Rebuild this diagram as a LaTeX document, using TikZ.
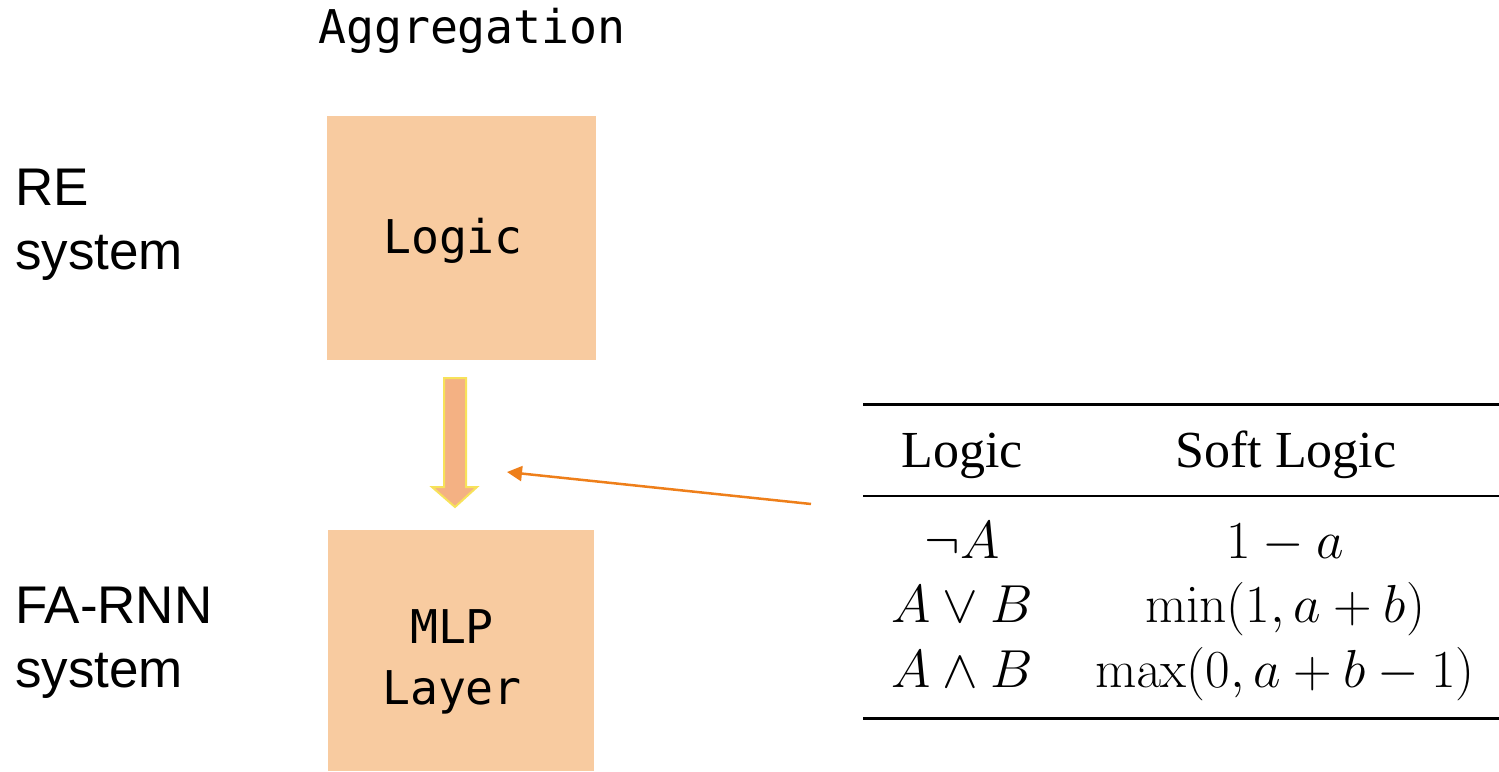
\RequirePackage{fix-cm}
\documentclass[tikz,border=0pt]{standalone}
\usepackage[no-math]{fontspec}
\newfontfamily\monofont{DejaVu Sans Mono}
\newfontfamily\labelfont{Liberation Sans}
\newfontfamily\tabfont{Liberation Serif}
\usetikzlibrary{arrows.meta}

\definecolor{boxfill}{HTML}{F8CBA0}
\definecolor{flowfill}{HTML}{F4B183}
\definecolor{flowedge}{HTML}{F7E25A}
\definecolor{pointer}{HTML}{EE7F1A}

\tikzset{
  block/.style={rectangle, fill=boxfill, draw=none, inner sep=0pt},
  monotext/.style={inner sep=0pt, anchor=base, font=\monofont\fontsize{46.5}{52}\selectfont},
  sidetext/.style={inner sep=0pt, anchor=base west, font=\labelfont\fontsize{53}{60}\selectfont},
  tabtext/.style={inner sep=0pt, anchor=base, font=\fontsize{53.5}{60}\selectfont},
  headtext/.style={inner sep=0pt, anchor=base, font=\tabfont\fontsize{52}{60}\selectfont},
  rule/.style={line width=#1, line cap=butt},
  pointerline/.style={draw=pointer, line width=2.5pt, -{Triangle[length=15pt,width=15pt]}},
}

\begin{document}
\begin{tikzpicture}[x=1pt,y=-1pt]
\useasboundingbox (0,0) rectangle (1499,771);

% column heading
\node[monotext] (agg) at (472,43) {Aggregation};

% side labels
\node[sidetext] (re1) at (15,205) {RE};
\node[sidetext] (re2) at (15,269) {system};
\node[sidetext] (fa1) at (15,623) {FA-RNN};
\node[sidetext] (fa2) at (15,687) {system};

% the two blocks
\node[block, minimum width=269pt, minimum height=244pt] (logic) at (461.5,238) {};
\node[monotext] (logictxt) at (453,253) {Logic};
\node[block, minimum width=266pt, minimum height=241pt] (mlp) at (461,650.5) {};
\node[monotext] (mlptxt1) at (452,643) {MLP};
\node[monotext] (mlptxt2) at (452,704) {Layer};

% block arrow from Logic down to MLP Layer
\draw[fill=flowfill, draw=flowedge, line width=2pt, line join=miter]
  (444,378) -- (466,378) -- (466,487) -- (477,487) -- (455,507)
  -- (432,487) -- (444,487) -- cycle;

% soft-logic table
\draw[rule=3pt] (863,404) -- (1499,404);
\draw[rule=2.2pt] (863,496) -- (1499,496);
\draw[rule=3pt] (863,718) -- (1499,718);

\node[headtext] (h1) at (962,467) {Logic};
\node[headtext] (h2) at (1286,467) {Soft Logic};

\node[tabtext] (r1a) at (962,558) {$\neg A$};
\node[tabtext] (r1b) at (1285,558) {$1-a$};
\node[tabtext] (r2a) at (962,622) {$A\vee B$};
\node[tabtext] (r2b) at (1285,622) {$\min(1,a+b)$};
\node[tabtext] (r3a) at (962,687) {$A\wedge B$};
\node[tabtext] (r3b) at (1285,687) {$\max(0,a+b-1)$};

% pointer from the table to the block arrow
\coordinate (tabref) at (811,504);
\coordinate (flowref) at (507,472);
\draw[pointerline] (tabref) -- (flowref);
\end{tikzpicture}
\end{document}
